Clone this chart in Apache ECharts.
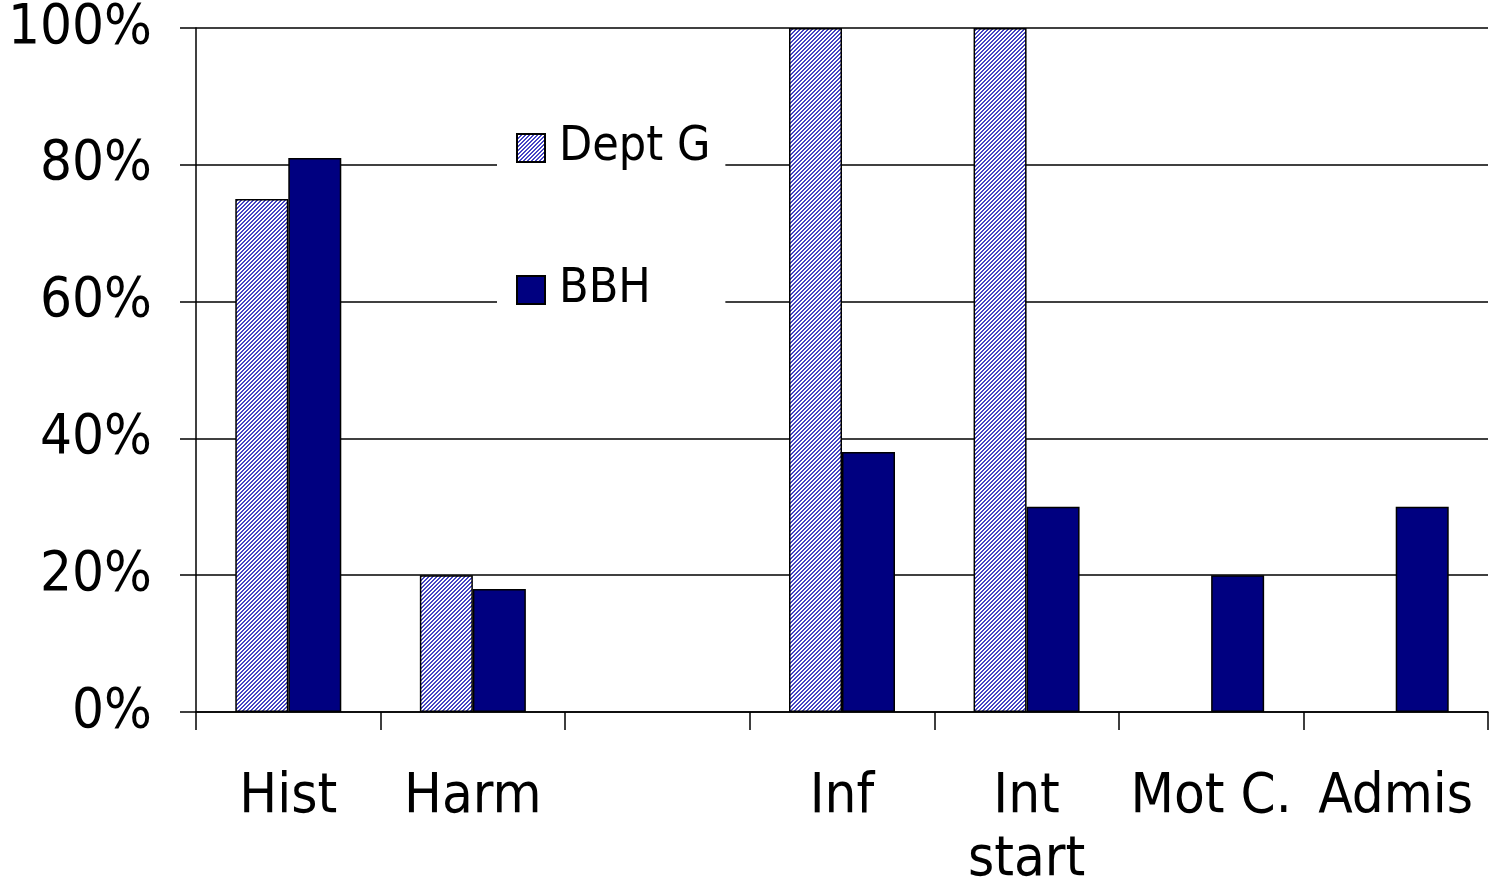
<!DOCTYPE html>
<html>
<head>
<meta charset="utf-8">
<script src="https://cdn.jsdelivr.net/npm/echarts@6/dist/echarts.min.js"></script>
<style>
html,body{margin:0;padding:0;background:#fff;}
#chart{width:1490px;height:884px;}
</style>
</head>
<body>
<div id="chart"></div>
<script>
const categories = ['Hist', 'Harm', '', 'Inf', 'Int\nstart', 'Mot C.', 'Admis'];
const seriesNames = ['Dept G', 'BBH'];
const deptG = [75, 20, null, 100, 100, null, null];
const bbh = [81, 18, null, 38, 30, 20, 30];
const yTicks = [0, 20, 40, 60, 80, 100];

const FONT = "'DejaVu Sans Condensed', 'Liberation Sans', sans-serif";

// hatch pattern
const pc = document.createElement('canvas');
pc.width = 4; pc.height = 4;
const ctx = pc.getContext('2d');
ctx.fillStyle = '#ffffff';
ctx.fillRect(0, 0, 4, 4);
ctx.fillStyle = '#4444c4';
for (let y = 0; y < 4; y++) {
  for (let x = 0; x < 4; x++) {
    if ((x + y) % 4 < 2) ctx.fillRect(x, y, 1, 1);
  }
}

const chart = echarts.init(document.getElementById('chart'), null, {renderer: 'canvas'});
chart.setOption({
  backgroundColor: '#ffffff',
  animation: false,
  grid: {left: 196, right: 2, top: 28, bottom: 172, containLabel: false, outerBoundsMode: 'none'},
  legend: {
    orient: 'vertical',
    left: 497,
    top: 104,
    padding: [20, 15, 20, 19],
    backgroundColor: '#ffffff',
    itemWidth: 28,
    itemHeight: 28,
    itemGap: 94,
    icon: 'rect',
    data: seriesNames,
    textStyle: {fontFamily: FONT, fontSize: 48, color: '#000', lineHeight: 28, padding: [0, 0, 0, 9]}
  },
  xAxis: {
    type: 'category',
    data: categories,
    axisLine: {show: true, lineStyle: {color: '#000', width: 1.5}},
    axisTick: {show: true, length: 18, alignWithLabel: false, lineStyle: {color: '#000', width: 1.5}},
    axisLabel: {fontFamily: FONT, fontSize: 56, color: '#000', margin: 54, lineHeight: 63, interval: 0},
    splitLine: {show: false}
  },
  yAxis: {
    type: 'value',
    min: 0,
    max: 100,
    interval: 20,
    axisLine: {show: true, lineStyle: {color: '#000', width: 1.5}},
    axisTick: {show: true, length: 16, lineStyle: {color: '#000', width: 1.5}},
    axisLabel: {fontFamily: FONT, fontSize: 56, color: '#000', margin: 44, padding: [10, 0, 0, 0], formatter: function (v) { return yTicks.indexOf(v) >= 0 ? v + '%' : ''; }},
    splitLine: {show: true, lineStyle: {color: '#000', width: 1.5}}
  },
  series: [
    {
      name: seriesNames[0],
      type: 'bar',
      data: deptG,
      barWidth: 53,
      barGap: '0%',
      itemStyle: {color: {image: pc, repeat: 'repeat'}, borderColor: '#000', borderWidth: 1.5}
    },
    {
      name: seriesNames[1],
      type: 'bar',
      data: bbh,
      barWidth: 53,
      barGap: '0%',
      itemStyle: {color: '#000080', borderColor: '#000', borderWidth: 1.5}
    }
  ]
});
</script>
</body>
</html>
